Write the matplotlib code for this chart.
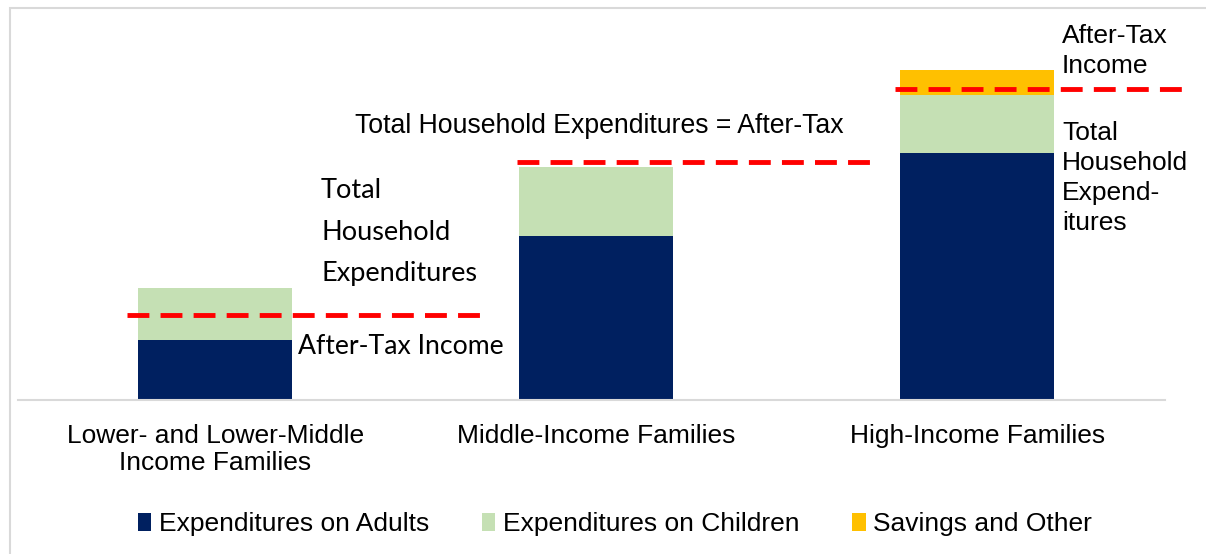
import matplotlib
matplotlib.use("Agg")
import matplotlib.pyplot as plt
from matplotlib.patches import Rectangle
import numpy as np

plt.rcParams['font.family'] = ['Liberation Sans', 'DejaVu Sans']

# data (arbitrary units)
categories = ["Lower- and Lower-Middle\nIncome Families",
              "Middle-Income Families",
              "High-Income Families"]
adults = [60, 164, 247]
children = [52, 69, 58]
savings = [0, 0, 25]
after_tax = [85, 238, 311]

series_names = ["Expenditures on Adults", "Expenditures on Children", "Savings and Other"]
colors = ["#002060", "#c5e0b4", "#ffc000"]

fig = plt.figure(figsize=(12.06, 5.54), dpi=100)

# light gray outer frame
fig.patches.append(Rectangle((10 / 1206, -0.1), 1.2, (554 - 8) / 554 + 0.1,
                             transform=fig.transFigure, fill=False,
                             edgecolor="#d9d9d9", linewidth=1.5))

ax = fig.add_axes([18 / 1206, 154 / 554, 1147 / 1206, 392 / 554])

x = np.arange(len(categories))
w = 0.404
ax.bar(x, adults, w, color=colors[0], label=series_names[0])
ax.bar(x, children, w, bottom=adults, color=colors[1], label=series_names[1])
bottom2 = np.array(adults) + np.array(children)
ax.bar(x, savings, w, bottom=bottom2, color=colors[2], label=series_names[2])

# after-tax income dashed lines
spans = [(-0.23, 0.695), (-0.207, 0.74), (-0.216, 0.557)]
for i, (a, b) in enumerate(spans):
    ax.plot([x[i] + a, x[i] + b], [after_tax[i]] * 2, color="#ff0000",
            linewidth=3.5, dashes=(4.5, 2.3), solid_capstyle="butt",
            dash_capstyle="butt", zorder=5, clip_on=False)

ax.set_xlim(-0.517, 2.492)
ax.set_ylim(0, 392)
ax.set_xticks(x)
ax.set_xticklabels(categories, fontsize=19)
ax.tick_params(axis="x", length=0, pad=17)
ax.set_yticks([])
for s in ["top", "right", "left"]:
    ax.spines[s].set_visible(False)
ax.spines["bottom"].set_color("#d9d9d9")
ax.spines["bottom"].set_linewidth(1.5)

# annotations
calib = ['Lato', 'DejaVu Sans']
ax.text(x[0] + 0.278, 168, "Total\nHousehold\nExpenditures", fontsize=19.5,
        family=calib, ha="left", va="center", linespacing=1.83)
ax.text(x[0] + 0.218, 54, "After-Tax Income", fontsize=19.2, family=calib,
        ha="left", va="center")
ax.text(x[1] + 0.008, 274, "Total Household Expenditures = After-Tax",
        fontsize=19.2, ha="center", va="center")
ax.text(x[2] + 0.222, 349, "After-Tax\nIncome", fontsize=19, ha="left",
        va="center", linespacing=1.35)
ax.text(x[2] + 0.222, 222, "Total\nHousehold\nExpend-\nitures", fontsize=19,
        ha="left", va="center", linespacing=1.33)

fig.legend(loc="center", bbox_to_anchor=(0.51, 30 / 554), ncol=3, frameon=False,
           fontsize=19, handlelength=0.5, handleheight=0.7, handletextpad=0.3,
           columnspacing=2.0)

fig.savefig("out.png", dpi=100)
